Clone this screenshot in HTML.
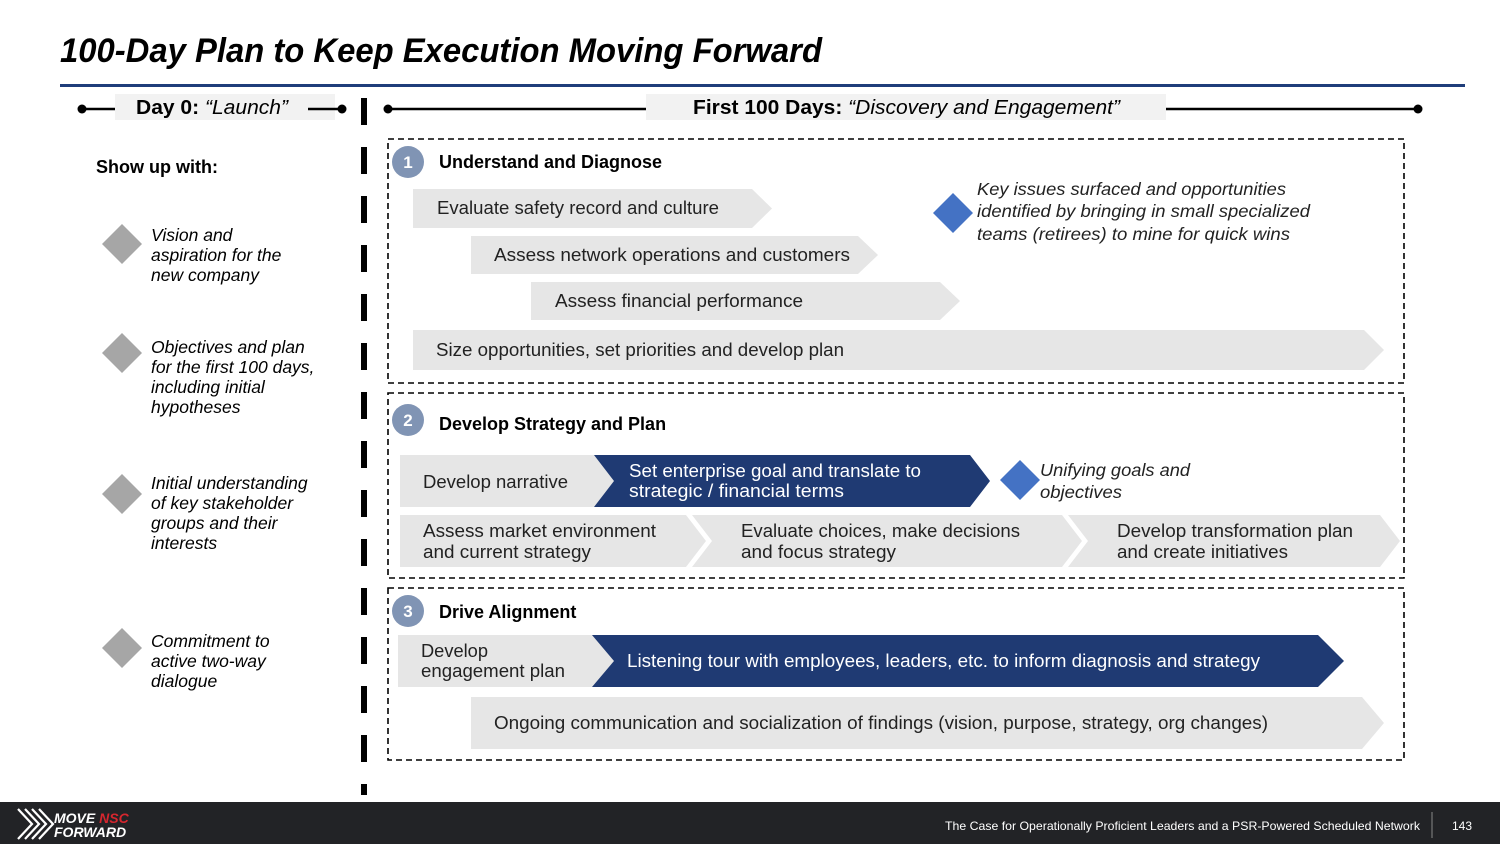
<!DOCTYPE html>
<html><head><meta charset="utf-8"><style>
html,body{margin:0;padding:0;background:#fff;}
svg{display:block;}
text{font-family:"Liberation Sans",sans-serif;}
</style></head><body>
<svg width="1500" height="844" viewBox="0 0 1500 844" xmlns="http://www.w3.org/2000/svg">
<text x="60" y="62" font-size="34" font-weight="bold" font-style="italic" fill="#000" textLength="762" lengthAdjust="spacingAndGlyphs">100-Day Plan to Keep Execution Moving Forward</text>
<rect x="60" y="84" width="1405" height="3" fill="#1f3d7a"/>

<!-- header bars -->
<line x1="82" y1="109" x2="115" y2="109" stroke="#000" stroke-width="2.5"/>
<circle cx="82" cy="109" r="4.5" fill="#000"/>
<rect x="115" y="94" width="220" height="26" fill="#f2f2f2"/>
<text x="136" y="114" font-size="20" fill="#000" textLength="152" lengthAdjust="spacingAndGlyphs"><tspan font-weight="bold">Day 0: </tspan><tspan font-style="italic">“Launch”</tspan></text>
<line x1="308" y1="109" x2="342" y2="109" stroke="#000" stroke-width="2.5"/>
<circle cx="342" cy="109" r="4.5" fill="#000"/>

<line x1="388" y1="109" x2="646" y2="109" stroke="#000" stroke-width="2.5"/>
<circle cx="388" cy="109" r="4.5" fill="#000"/>
<rect x="646" y="94" width="520" height="26" fill="#f2f2f2"/>
<text x="693" y="114" font-size="20" fill="#000" textLength="427" lengthAdjust="spacingAndGlyphs"><tspan font-weight="bold">First 100 Days: </tspan><tspan font-style="italic">“Discovery and Engagement”</tspan></text>
<line x1="1166" y1="109" x2="1418" y2="109" stroke="#000" stroke-width="2.5"/>
<circle cx="1418" cy="109" r="4.5" fill="#000"/>

<!-- vertical dashed divider -->
<line x1="364" y1="98" x2="364" y2="795" stroke="#000" stroke-width="6" stroke-dasharray="27 22"/>

<!-- left column -->
<text x="96" y="173" font-size="18" font-weight="bold" fill="#000">Show up with:</text>
<g fill="#a6a6a6">
<polygon points="122,224 142,244 122,264 102,244"/>
<polygon points="122,333 142,353 122,373 102,353"/>
<polygon points="122,474 142,494 122,514 102,494"/>
<polygon points="122,628 142,648 122,668 102,648"/>
</g>
<g font-size="17.5" font-style="italic" fill="#000">
<text x="151" y="241">Vision and</text><text x="151" y="261">aspiration for the</text><text x="151" y="281">new company</text>
<text x="151" y="353">Objectives and plan</text><text x="151" y="373">for the first 100 days,</text><text x="151" y="393">including initial</text><text x="151" y="413">hypotheses</text>
<text x="151" y="489">Initial understanding</text><text x="151" y="509">of key stakeholder</text><text x="151" y="529">groups and their</text><text x="151" y="549">interests</text>
<text x="151" y="647">Commitment to</text><text x="151" y="667">active two-way</text><text x="151" y="687">dialogue</text>
</g>

<!-- dashed boxes -->
<g fill="none" stroke="#000" stroke-width="1.6" stroke-dasharray="6 4">
<rect x="388" y="139" width="1016" height="244"/>
<rect x="388" y="393" width="1016" height="185"/>
<rect x="388" y="588" width="1016" height="172"/>
</g>

<!-- section headers -->
<g fill="#8094b4"><circle cx="408" cy="162" r="16"/><circle cx="408" cy="420" r="16"/><circle cx="408" cy="611" r="16"/></g>
<g font-size="17" font-weight="bold" fill="#fff" text-anchor="middle"><text x="408" y="168">1</text><text x="408" y="426">2</text><text x="408" y="617">3</text></g>
<g font-size="18" font-weight="bold" fill="#000">
<text x="439" y="168">Understand and Diagnose</text>
<text x="439" y="430">Develop Strategy and Plan</text>
<text x="439" y="618">Drive Alignment</text>
</g>

<!-- chevrons section 1 -->
<g fill="#e6e6e6">
<polygon points="413,189 752,189 772,208.5 752,228 413,228"/>
<polygon points="471,236 858,236 878,255 858,274 471,274"/>
<polygon points="531,282 940,282 960,301 940,320 531,320"/>
<polygon points="413,330 1364,330 1384,350 1364,370 413,370"/>
</g>
<g font-size="18" fill="#222">
<text x="437" y="214" textLength="282" lengthAdjust="spacingAndGlyphs">Evaluate safety record and culture</text>
<text x="494" y="261" textLength="356" lengthAdjust="spacingAndGlyphs">Assess network operations and customers</text>
<text x="555" y="307" textLength="248" lengthAdjust="spacingAndGlyphs">Assess financial performance</text>
<text x="436" y="356" textLength="408" lengthAdjust="spacingAndGlyphs">Size opportunities, set priorities and develop plan</text>
</g>
<polygon points="953,193 973,213 953,233 933,213" fill="#4472c4"/>
<g font-size="17.5" font-style="italic" fill="#222">
<text x="977" y="195" textLength="309" lengthAdjust="spacingAndGlyphs">Key issues surfaced and opportunities</text>
<text x="977" y="217" textLength="333" lengthAdjust="spacingAndGlyphs">identified by bringing in small specialized</text>
<text x="977" y="240" textLength="313" lengthAdjust="spacingAndGlyphs">teams (retirees) to mine for quick wins</text>
</g>

<!-- section 2 -->
<g fill="#e6e6e6">
<polygon points="400,455 600,455 620,481 600,507 400,507"/>
<polygon points="400,515 686,515 706,541 686,567 400,567"/>
<polygon points="692,515 1062,515 1082,541 1062,567 692,567 712,541"/>
<polygon points="1068,515 1380,515 1400,541 1380,567 1068,567 1088,541"/>
</g>
<polygon points="594,455 970,455 990,481 970,507 594,507 614,481" fill="#1f3a73"/>
<polygon points="1020,460 1040,480 1020,500 1000,480" fill="#4472c4"/>
<g font-size="18" fill="#222">
<text x="423" y="488" textLength="145" lengthAdjust="spacingAndGlyphs">Develop narrative</text>
<text x="423" y="537" textLength="233" lengthAdjust="spacingAndGlyphs">Assess market environment</text>
<text x="423" y="558" textLength="168" lengthAdjust="spacingAndGlyphs">and current strategy</text>
<text x="741" y="537" textLength="279" lengthAdjust="spacingAndGlyphs">Evaluate choices, make decisions</text>
<text x="741" y="558" textLength="155" lengthAdjust="spacingAndGlyphs">and focus strategy</text>
<text x="1117" y="537" textLength="236" lengthAdjust="spacingAndGlyphs">Develop transformation plan</text>
<text x="1117" y="558" textLength="171" lengthAdjust="spacingAndGlyphs">and create initiatives</text>
</g>
<g font-size="18" fill="#fff">
<text x="629" y="477" textLength="292" lengthAdjust="spacingAndGlyphs">Set enterprise goal and translate to</text>
<text x="629" y="497" textLength="215" lengthAdjust="spacingAndGlyphs">strategic / financial terms</text>
</g>
<g font-size="17.5" font-style="italic" fill="#222">
<text x="1040" y="476" textLength="150" lengthAdjust="spacingAndGlyphs">Unifying goals and</text>
<text x="1040" y="498" textLength="82" lengthAdjust="spacingAndGlyphs">objectives</text>
</g>

<!-- section 3 -->
<g fill="#e6e6e6">
<polygon points="398,635 600,635 620,661 600,687 398,687"/>
<polygon points="471,697 1362,697 1384,723 1362,749 471,749"/>
</g>
<polygon points="592,635 1318,635 1344,661 1318,687 592,687 614,661" fill="#1f3a73"/>
<g font-size="18" fill="#222">
<text x="421" y="657" textLength="67" lengthAdjust="spacingAndGlyphs">Develop</text>
<text x="421" y="677" textLength="144" lengthAdjust="spacingAndGlyphs">engagement plan</text>
<text x="494" y="729" textLength="774" lengthAdjust="spacingAndGlyphs">Ongoing communication and socialization of findings (vision, purpose, strategy, org changes)</text>
</g>
<text x="627" y="667" font-size="18" fill="#fff" textLength="633" lengthAdjust="spacingAndGlyphs">Listening tour with employees, leaders, etc. to inform diagnosis and strategy</text>

<!-- footer -->
<rect x="0" y="802" width="1500" height="42" fill="#222326"/>
<g stroke="#fff" stroke-width="2.2" fill="none">
<polyline points="18,809 32,824 18,839"/>
<polyline points="25,809 39,824 25,839"/>
<polyline points="32,809 46,824 32,839"/>
<polyline points="39,809 53,824 39,839"/>
</g>
<text x="54" y="823" font-size="14" font-weight="bold" font-style="italic" fill="#fff">MOVE <tspan fill="#d6262e">NSC</tspan></text>
<text x="54" y="837" font-size="14" font-weight="bold" font-style="italic" fill="#fff">FORWARD</text>
<text x="945" y="830" font-size="12" fill="#fff" textLength="475" lengthAdjust="spacingAndGlyphs">The Case for Operationally Proficient Leaders and a PSR-Powered Scheduled Network</text>
<line x1="1432" y1="812" x2="1432" y2="838" stroke="#888" stroke-width="1"/>
<text x="1452" y="830" font-size="12" fill="#fff">143</text>
</svg>
</body></html>
